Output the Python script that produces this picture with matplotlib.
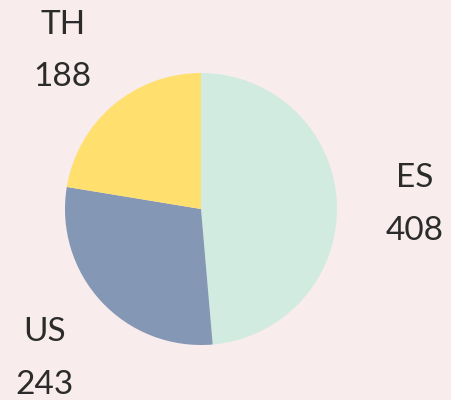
import numpy as np
import matplotlib.pyplot as plt

plt.rcParams['font.family'] = ['Lato', 'DejaVu Sans']

labels = ['ES', 'US', 'TH']
values = [408, 243, 188]
colors = ['#d2ebe0', '#8497b5', '#ffe06e']
bg = '#f8ecec'

fig = plt.figure(figsize=(4.52, 4.00), dpi=100)
fig.patch.set_facecolor(bg)
ax = fig.add_axes([0, 0, 1, 1])
ax.set_facecolor(bg)

# pie centre at (201, 209) px, radius 136 px
r = 136.
wedges, _ = ax.pie(values, colors=colors, startangle=90, counterclock=False,
                   radius=1.0, center=(0, 0), frame=True)
ax.set_xlim(-201 / r, (452 - 201) / r)
ax.set_ylim(-(400 - 209) / r, 209 / r)
ax.axis('off')

for w, lab, v in zip(wedges, labels, values):
    mid = np.deg2rad((w.theta1 + w.theta2) / 2.)
    d = 1.57
    ax.text(d * np.cos(mid), d * np.sin(mid) - 0.035, '%s\n%d' % (lab, v),
            ha='center', va='center', fontsize=24, color='#2b2b2b',
            linespacing=1.95)

fig.savefig('out.png', dpi=100, facecolor=bg)
